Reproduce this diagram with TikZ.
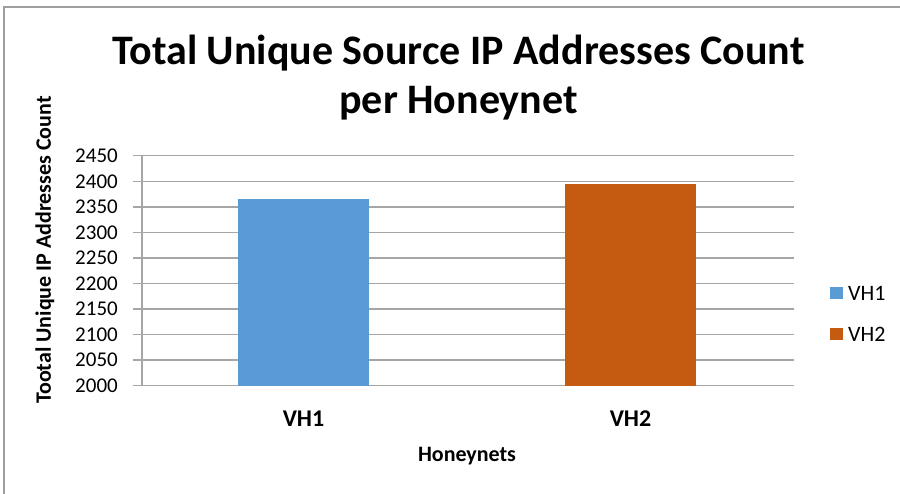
\documentclass[tikz,border=0pt]{standalone}
\usepackage{fontspec}
\setmainfont{Carlito}
\definecolor{barblue}{HTML}{5B9BD5}
\definecolor{barorange}{HTML}{C55A11}
\definecolor{gridgray}{HTML}{A6A6A6}
\definecolor{framegray}{HTML}{9E9E9E}
\begin{document}
\begin{tikzpicture}[x=1pt,y=-1pt,
  gridline/.style={draw=gridgray,line width=1.4pt},
  ticklabel/.style={anchor=east,inner sep=0pt,font=\fontsize{21}{21}\selectfont},
  catlabel/.style={inner sep=0pt,font=\fontsize{24}{24}\selectfont\bfseries},
  titleline/.style={anchor=base,inner sep=0pt,font=\fontsize{42}{42}\selectfont\bfseries},
  legendtext/.style={anchor=west,inner sep=0pt,font=\fontsize{22}{22}\selectfont}]
\useasboundingbox (0,0) rectangle (900,494);
\fill[white] (0,0) rectangle (900,494);
% chart frame (top and left edges)
\draw[framegray,line width=1.2pt] (4,494) -- (4,7) -- (900,7);
% title
\node[titleline] (title1) at (458.5,65) {Total Unique Source IP Addresses Count};
\node[titleline] (title2) at (458.5,114) {per Honeynet};
% gridlines, ticks and value labels
\foreach \v [count=\i from 0] in {2000,2050,...,2450} {
  \pgfmathsetmacro{\yy}{385.7-\i*25.55}
  \draw[gridline] (133,\yy) -- (794,\yy);
  \node[ticklabel] at (118,\yy) {\v};
}
% bars
\fill[barblue] (238,199.3) rectangle (369,385.7);
\fill[barorange] (565,184) rectangle (696,385.7);
% vertical axis
\draw[gridline] (142,155.7) -- (142,385.7);
% category labels
\node[catlabel] (c1) at (303.5,419) {VH1};
\node[catlabel] (c2) at (630.5,419) {VH2};
% axis titles
\node[font=\fontsize{22}{22}\selectfont\bfseries,inner sep=0pt] (xtitle) at (467,456) {Honeynets};
\node[font=\fontsize{22}{22}\selectfont\bfseries,inner sep=0pt,rotate=90] (ytitle) at (45,250) {Tootal Unique IP Addresses Count};
% legend
\fill[barblue] (830,287) rectangle (843,299);
\node[legendtext] (l1) at (848,293) {VH1};
\fill[barorange] (830,328) rectangle (843,340);
\node[legendtext] (l2) at (848,334) {VH2};
\end{tikzpicture}
\end{document}
